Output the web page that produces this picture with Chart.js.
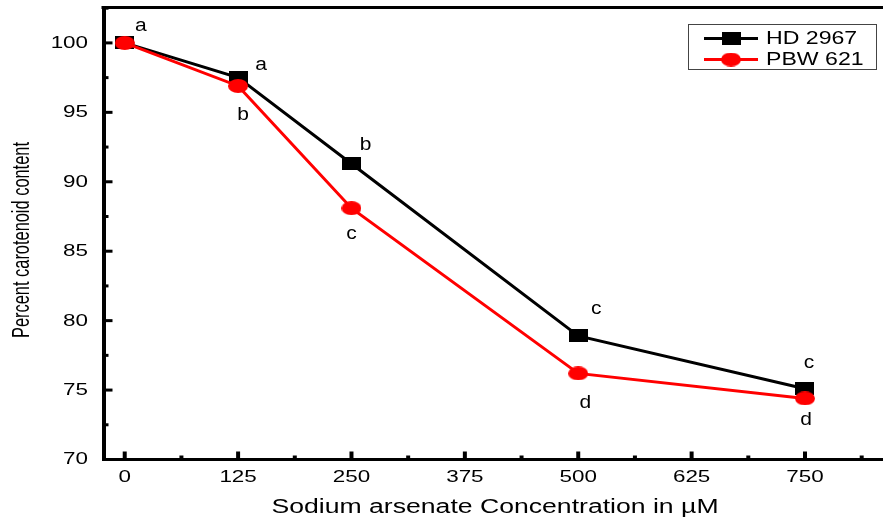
<!DOCTYPE html>
<html>
<head>
<meta charset="utf-8">
<script src="https://cdn.jsdelivr.net/npm/chart.js@4/dist/chart.umd.min.js"></script>
<style>
  html, body { margin: 0; padding: 0; background: #fff; }
  #myChart { display: block; }
</style>
</head>
<body>
<canvas id="myChart" width="883" height="517"></canvas>
<script>
// data
const concentrations = [0, 125, 250, 500, 750];
const hdValues = [100, 97.5, 91.3, 78.9, 75.1];
const pbwValues = [100, 96.9, 88.1, 76.2, 74.4];
const hdLetters = ['a', 'a', 'b', 'c', 'c'];
const pbwLetters = ['', 'b', 'c', 'd', 'd'];
const xTickValues = [0, 125, 250, 375, 500, 625, 750];
const yTickValues = [70, 75, 80, 85, 90, 95, 100];
const seriesNames = ['HD 2967', 'PBW 621'];
const xTitle = 'Sodium arsenate Concentration in µM';
const yTitle = 'Percent carotenoid content';

// letter offsets (pixels) from each point
const hdLetterOffsets = [[16, -17], [23, -12], [14, -19], [18, -27], [4, -26]];
const pbwLetterOffsets = [[0, 0], [5, 29], [0, 26], [7, 30], [1, 22]];

const FONT = "'Liberation Sans', Arial, sans-serif";

const toPoints = (vals) => concentrations.map((c, i) => ({ x: c, y: vals[i] }));

// marker images (the original markers are a bit wider than tall)
const makeMarker = (shape, w, h, color) => {
    const c = document.createElement('canvas');
    c.width = w;
    c.height = h;
    const g = c.getContext('2d');
    g.fillStyle = color;
    if (shape === 'rect') {
        g.fillRect(0, 0, w, h);
    } else {
        g.beginPath();
        g.ellipse(w / 2, h / 2, w / 2, h / 2, 0, 0, Math.PI * 2);
        g.fill();
    }
    return c;
};
const squareMarker = makeMarker('rect', 19, 13, '#000000');
const circleMarker = makeMarker('circle', 20, 14, '#ff0000');

// text stretched horizontally like in the original figure
const drawText = (ctx, text, x, y, size, sx, align) => {
    ctx.save();
    ctx.translate(x, y);
    ctx.scale(sx, 1);
    ctx.font = size + 'px ' + FONT;
    ctx.textAlign = align;
    ctx.textBaseline = 'middle';
    ctx.fillStyle = '#000';
    ctx.fillText(text, 0, 0);
    ctx.restore();
};

const extrasPlugin = {
    id: 'extras',
    afterDatasetsDraw(chart) {
        const { ctx, chartArea: area, scales } = chart;
        const xs = scales.x, ys = scales.y;
        ctx.save();
        ctx.strokeStyle = '#000';
        ctx.lineWidth = 3;
        // top frame line
        ctx.beginPath();
        ctx.moveTo(area.left - 2, area.top);
        ctx.lineTo(area.right, area.top);
        ctx.stroke();

        // x ticks, pointing inward
        ctx.lineWidth = 4;
        xTickValues.forEach(v => {
            const px = xs.getPixelForValue(v);
            ctx.beginPath();
            ctx.moveTo(px, area.bottom);
            ctx.lineTo(px, area.bottom - 8);
            ctx.stroke();
            const m = xs.getPixelForValue(v + 62.5);
            if (m < area.right) {
                ctx.beginPath();
                ctx.moveTo(m, area.bottom);
                ctx.lineTo(m, area.bottom - 4);
                ctx.stroke();
            }
            drawText(ctx, String(v), px, 478, 16, 1.4, 'center');
        });
        // y ticks
        ctx.lineWidth = 3;
        yTickValues.forEach(v => {
            const py = ys.getPixelForValue(v);
            ctx.beginPath();
            ctx.moveTo(area.left, py);
            ctx.lineTo(area.left + 9, py);
            ctx.stroke();
            const m = ys.getPixelForValue(v + 2.5);
            if (m > area.top) {
                ctx.beginPath();
                ctx.moveTo(area.left, m);
                ctx.lineTo(area.left + 5, m);
                ctx.stroke();
            }
            drawText(ctx, String(v), 88, py + 0.5, 16, 1.4, 'right');
        });

        // axis titles
        drawText(ctx, xTitle, 495, 507, 20, 1.33, 'center');
        ctx.save();
        ctx.translate(22, 240);
        ctx.rotate(-Math.PI / 2);
        ctx.scale(1, 1.45);
        ctx.font = '16.4px ' + FONT;
        ctx.textAlign = 'center';
        ctx.textBaseline = 'middle';
        ctx.fillStyle = '#000';
        ctx.fillText(yTitle, 0, 0);
        ctx.restore();

        // significance letters
        const drawLetters = (vals, letters, offs) => {
            vals.forEach((v, i) => {
                if (!letters[i]) return;
                const px = xs.getPixelForValue(concentrations[i]);
                const py = ys.getPixelForValue(v);
                drawText(ctx, letters[i], px + offs[i][0], py + offs[i][1], 17.5, 1.2, 'center');
            });
        };
        drawLetters(hdValues, hdLetters, hdLetterOffsets);
        drawLetters(pbwValues, pbwLetters, pbwLetterOffsets);

        // legend box
        const lx = 688, ly = 24, lw = 188, lh = 45;
        ctx.lineWidth = 1;
        ctx.strokeStyle = '#444';
        ctx.strokeRect(lx + 0.5, ly + 0.5, lw, lh);
        chart.data.datasets.forEach((ds, i) => {
            const cy = ly + 14.5 + i * 21;
            ctx.strokeStyle = ds.borderColor;
            ctx.lineWidth = 3;
            ctx.beginPath();
            ctx.moveTo(lx + 16, cy);
            ctx.lineTo(lx + 70, cy);
            ctx.stroke();
            const mk = ds.pointStyle;
            ctx.drawImage(mk, lx + 43 - mk.width / 2, cy - mk.height / 2);
            drawText(ctx, ds.label, lx + 78, cy + 1, 17.5, 1.32, 'left');
        });
        ctx.restore();
    }
};

const chartCanvas = document.getElementById('myChart').getContext('2d');
const carotenoidChart = new Chart(chartCanvas, {
    type: 'line',
    data: {
        datasets: [
            {
                label: seriesNames[0],
                data: toPoints(hdValues),
                borderColor: '#000000',
                backgroundColor: '#000000',
                borderWidth: 3,
                pointStyle: squareMarker,
                pointRadius: 10,
                tension: 0,
                order: 1
            },
            {
                label: seriesNames[1],
                data: toPoints(pbwValues),
                borderColor: '#ff0000',
                backgroundColor: '#ff0000',
                borderWidth: 3,
                pointStyle: circleMarker,
                pointRadius: 10,
                tension: 0,
                order: 0
            }
        ]
    },
    options: {
        responsive: false,
        animation: false,
        layout: { autoPadding: false, padding: { top: 7.5, right: 0, left: 0, bottom: 0 } },
        plugins: {
            legend: { display: false },
            tooltip: { enabled: false }
        },
        scales: {
            x: {
                type: 'linear',
                min: -23.4,
                max: 836,
                grid: { display: false },
                border: { display: true, color: '#000', width: 3 },
                ticks: { display: false, stepSize: 125 },
                title: { display: false },
                afterFit: (s) => { s.height = 57.5; }
            },
            y: {
                min: 70,
                max: 102.55,
                grid: { display: false },
                border: { display: true, color: '#000', width: 4 },
                ticks: { display: false, stepSize: 5 },
                title: { display: false },
                afterFit: (s) => { s.width = 103.5; }
            }
        }
    },
    plugins: [extrasPlugin]
});
</script>
</body>
</html>
